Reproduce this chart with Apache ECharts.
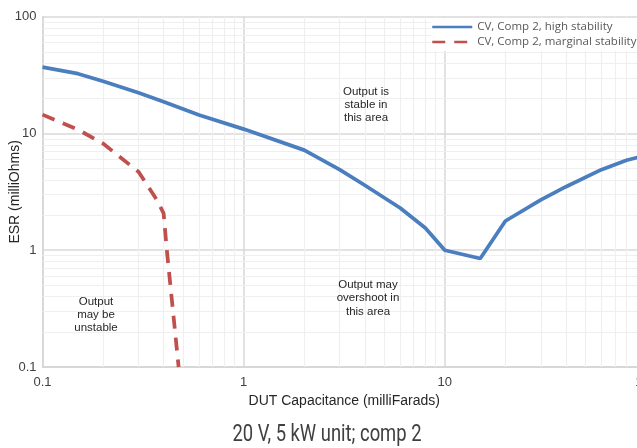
<!DOCTYPE html>
<html>
<head>
<meta charset="utf-8">
<script src="https://cdn.jsdelivr.net/npm/echarts@6/dist/echarts.min.js"></script>
<style>
  html, body { margin: 0; padding: 0; background: #fff; }
  #chart { width: 637px; height: 448px; }
</style>
</head>
<body>
<div id="chart"></div>
<script>
// ESR vs DUT capacitance, log-log
var highCap = [0.1, 0.15, 0.2, 0.3, 0.4, 0.6, 1, 2, 3, 4, 6, 8, 10, 15, 20, 30, 40, 60, 80, 100];
var highEsr = [37, 32.5, 28, 22.3, 18.7, 14.4, 10.9, 7.2, 4.9, 3.6, 2.3, 1.55, 1.0, 0.85, 1.78, 2.7, 3.5, 4.9, 5.9, 6.5];
var margCap = [0.1, 0.15, 0.2, 0.3, 0.37, 0.4, 0.415, 0.44, 0.475];
var margEsr = [14.5, 10.8, 8.2, 4.7, 2.7, 2.07, 1.0, 0.37, 0.1];

var seriesNames = ['CV, Comp 2, high stability', 'CV, Comp 2, marginal stability'];
var minorTicks = [0.2, 0.3, 0.4, 0.5, 0.6, 0.7, 0.8, 0.9,
                  2, 3, 4, 5, 6, 7, 8, 9,
                  20, 30, 40, 50, 60, 70, 80, 90];

function pairs(xs, ys) {
  var out = [];
  xs.map(function (x, i) { out.push([x, ys[i]]); });
  return out;
}

var minorLines = [];
minorTicks.map(function (v) {
  minorLines.push({ xAxis: v });
  minorLines.push({ yAxis: v });
});

var chart = echarts.init(document.getElementById('chart'));

var option = {
  animation: false,
  grid: { left: 42.5, right: -9, top: 16.7, bottom: 81, containLabel: false, outerBoundsMode: 'none' },
  legend: {
    orient: 'vertical',
    left: 431,
    top: 18,
    padding: [3, 10, 3, 0],
    backgroundColor: '#fff',
    itemWidth: 40,
    itemHeight: 14,
    itemGap: 3,
    itemStyle: { opacity: 0 },
    lineStyle: { width: 2.5 },
    textStyle: { fontFamily: 'Open Sans', fontSize: 11.5, color: '#595959' },
    data: seriesNames
  },
  xAxis: {
    type: 'log', logBase: 10, min: 0.1, max: 100,
    name: 'DUT Capacitance (milliFarads)',
    nameLocation: 'middle', nameGap: 27, nameMoveOverlap: false,
    nameTextStyle: { fontFamily: 'Liberation Sans', fontSize: 14, color: '#262626' },
    axisLine: { lineStyle: { color: '#d4d4d4', width: 1.5 } },
    axisTick: { show: false },
    axisLabel: { fontFamily: 'Liberation Sans', fontSize: 13, color: '#404040', margin: 9 },
    splitLine: { show: true, lineStyle: { color: '#d9d9d9', width: 1.5 } }
  },
  yAxis: {
    type: 'log', logBase: 10, min: 0.1, max: 100,
    name: 'ESR (milliOhms)',
    nameLocation: 'middle', nameGap: 20, nameMoveOverlap: false,
    nameTextStyle: { fontFamily: 'Liberation Sans', fontSize: 14, color: '#262626' },
    axisLine: { show: true, lineStyle: { color: '#d4d4d4', width: 1.5 } },
    axisTick: { show: false },
    axisLabel: { fontFamily: 'Liberation Sans', fontSize: 13, color: '#404040', margin: 6 },
    splitLine: { show: true, lineStyle: { color: '#d9d9d9', width: 1.5 } }
  },
  series: [
    {
      name: 'minor grid',
      type: 'line',
      data: [],
      silent: true,
      markLine: {
        z: 1,
        silent: true,
        animation: false,
        symbol: ['none', 'none'],
        label: { show: false },
        lineStyle: { type: 'solid', color: '#efefef', width: 1.2 },
        data: minorLines
      }
    },
    {
      name: seriesNames[0],
      type: 'line',
      z: 3,
      symbol: 'none',
      lineStyle: { color: '#4a7ebf', width: 3.75 },
      itemStyle: { color: '#4a7ebf' },
      data: pairs(highCap, highEsr)
    },
    {
      name: seriesNames[1],
      type: 'line',
      z: 3,
      symbol: 'none',
      lineStyle: { color: '#c0504d', width: 3.75, type: [13, 9] },
      itemStyle: { color: '#c0504d' },
      data: pairs(margCap, margEsr)
    }
  ],
  graphic: [
    {
      type: 'text', x: 366, y: 105, z: 10,
      style: { text: 'Output is\nstable in\nthis area', align: 'center', verticalAlign: 'middle',
        font: '11.5px "Liberation Sans"', lineHeight: 13.3, fill: '#262626' }
    },
    {
      type: 'text', x: 368, y: 298.3, z: 10,
      style: { text: 'Output may\novershoot in\nthis area', align: 'center', verticalAlign: 'middle',
        font: '11.5px "Liberation Sans"', lineHeight: 13.3, fill: '#262626' }
    },
    {
      type: 'text', x: 96, y: 315, z: 10,
      style: { text: 'Output\nmay be\nunstable', align: 'center', verticalAlign: 'middle',
        font: '11.5px "Liberation Sans"', lineHeight: 13.3, fill: '#262626' }
    },
    {
      type: 'text', x: 327, y: 435, scaleX: 0.8, z: 10,
      style: { text: '20 V, 5 kW unit; comp 2', align: 'center', verticalAlign: 'middle',
        font: '23px Roboto', fill: '#404040' }
    }
  ]
};

chart.setOption(option);
</script>
</body>
</html>
